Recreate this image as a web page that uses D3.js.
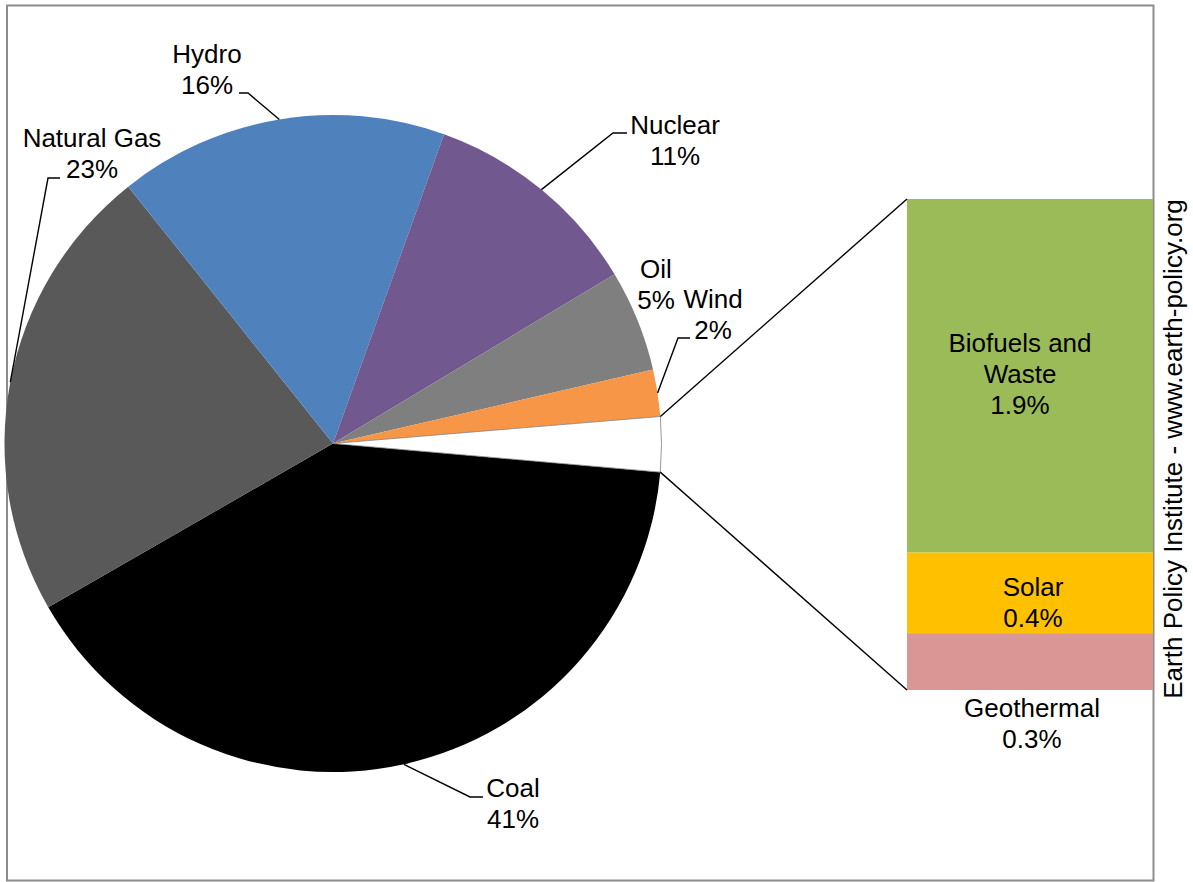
<!DOCTYPE html>
<html><head><meta charset="utf-8">
<script src="https://cdn.jsdelivr.net/npm/d3@7"></script>
<style>
body{margin:0;background:#fff;overflow:hidden}
text{font-family:"Liberation Sans",Arial,sans-serif;fill:#000}
</style>
</head><body>
<svg id="chart" width="1193" height="882"></svg>
<script>
// ---- data ----
const pieCategories = ["Coal", "Natural Gas", "Hydro", "Nuclear", "Oil", "Wind", "Other"];
const pieValues = [40.3, 22.6, 16.2, 10.9, 5.0, 2.3, 2.7];
const pieLabels = ["41%", "23%", "16%", "11%", "5%", "2%", ""];
const pieNames = [["Coal"], ["Natural Gas"], ["Hydro"], ["Nuclear"], ["Oil"], ["Wind"], []];
const pieColors = ["#000000", "#595959", "#4f81bd", "#71588f", "#7f7f7f", "#f79646", "#ffffff"];

const barCategories = ["Biofuels and Waste", "Solar", "Geothermal"];
const barNames = [["Biofuels and", "Waste"], ["Solar"], ["Geothermal"]];
const barValues = [1.93, 0.44, 0.31];
const barLabels = ["1.9%", "0.4%", "0.3%"];
const barColors = ["#9bbb59", "#ffc000", "#d99694"];

const sourceText = "Earth Policy Institute - www.earth-policy.org";

// ---- layout (positions only) ----
const W = 1193, H = 882;
const cx = 333, cy = 443.5, R = 328.5;
const startDeg = 95;
const barX0 = 907, barX1 = 1153, barY0 = 199, barY1 = 690;
const fontSize = 26, lineH = 31;
// label placement: text centre x, first baseline y, leader elbow [from, to]
const pieLabelLayout = [
  {x: 513, y: 797, elbow: [[483, 797], [470, 797]]},
  {x: 92, y: 147, elbow: [[60, 178], [48, 178]]},
  {x: 207, y: 63, elbow: [[239, 93], [248, 93]]},
  {x: 675, y: 134, elbow: [[627, 133], [613, 133]]},
  {x: 656, y: 278, elbow: null},
  {x: 713, y: 308, elbow: [[690, 338], [678, 338]]},
  null
];
const barLabelLayout = [
  {x: 1020, y: 352},
  {x: 1033, y: 596},
  {x: 1032, y: 717}
];

const svg = d3.select("#chart");

// frame
svg.append("rect").attr("x", 7).attr("y", 5.5).attr("width", 1146.5).attr("height", 875)
  .attr("fill", "none").attr("stroke", "#8c8c8c").attr("stroke-width", 2);

// ---- pie ----
const pieData = pieCategories.map((c, i) => ({cat: c, value: pieValues[i], i}));
const a0 = startDeg * Math.PI / 180;
const pie = d3.pie().value(d => d.value).sort(null).startAngle(a0).endAngle(a0 + 2 * Math.PI);
const arcs = pie(pieData);
const arc = d3.arc().innerRadius(0).outerRadius(R);
const edgeArc = d3.arc().innerRadius(R).outerRadius(R);

const g = svg.append("g").attr("transform", `translate(${cx},${cy})`);
g.selectAll("path.slice").data(arcs).join("path")
  .attr("class", "slice")
  .attr("d", arc)
  .attr("fill", d => pieColors[d.data.i])
  .attr("stroke", d => d.data.i === 6 ? "#7f7f7f" : "none")
  .attr("stroke-width", 0.8);

// leaders
arcs.forEach(d => {
  const L = pieLabelLayout[d.data.i];
  if (!L || !L.elbow) return;
  const c = edgeArc.centroid(d);
  const pts = [L.elbow[0], L.elbow[1], [cx + c[0], cy + c[1]]];
  svg.append("path").attr("d", d3.line()(pts))
    .attr("fill", "none").attr("stroke", "#000").attr("stroke-width", 1.4);
});

// labels
arcs.forEach(d => {
  const L = pieLabelLayout[d.data.i];
  if (!L) return;
  const lines = pieNames[d.data.i].concat([pieLabels[d.data.i]]);
  const t = svg.append("text").attr("text-anchor", "middle").attr("font-size", fontSize);
  lines.forEach((s, k) => t.append("tspan").attr("x", L.x).attr("y", L.y + k * lineH).text(s));
});

// ---- bar (pie of pie) ----
const total = d3.sum(barValues);
const yb = d3.scaleLinear().domain([0, total]).range([barY0, barY1]);
let acc = 0;
const stack = barValues.map((v, i) => { const s = {i, y0: acc, y1: acc + v}; acc += v; return s; });
svg.selectAll("rect.bar").data(stack).join("rect")
  .attr("class", "bar")
  .attr("x", barX0).attr("width", barX1 - barX0)
  .attr("y", d => yb(d.y0)).attr("height", d => yb(d.y1) - yb(d.y0))
  .attr("fill", d => barColors[d.i]);

// connectors from the "Other" slice to the bar
const other = arcs[6];
const pTop = [cx + R * Math.sin(other.startAngle), cy - R * Math.cos(other.startAngle)];
const pBot = [cx + R * Math.sin(other.endAngle), cy - R * Math.cos(other.endAngle)];
svg.append("line").attr("x1", pTop[0]).attr("y1", pTop[1]).attr("x2", barX0).attr("y2", yb(0))
  .attr("stroke", "#000").attr("stroke-width", 1.4);
svg.append("line").attr("x1", pBot[0]).attr("y1", pBot[1]).attr("x2", barX0).attr("y2", yb(total))
  .attr("stroke", "#000").attr("stroke-width", 1.4);

stack.forEach(d => {
  const L = barLabelLayout[d.i];
  const lines = barNames[d.i].concat([barLabels[d.i]]);
  const t = svg.append("text").attr("text-anchor", "middle").attr("font-size", fontSize);
  lines.forEach((s, k) => t.append("tspan").attr("x", L.x).attr("y", L.y + k * lineH).text(s));
});

// source text
svg.append("text").attr("transform", "translate(1182,449) rotate(-90)")
  .attr("text-anchor", "middle").attr("font-size", fontSize).text(sourceText);
</script>
</body></html>
